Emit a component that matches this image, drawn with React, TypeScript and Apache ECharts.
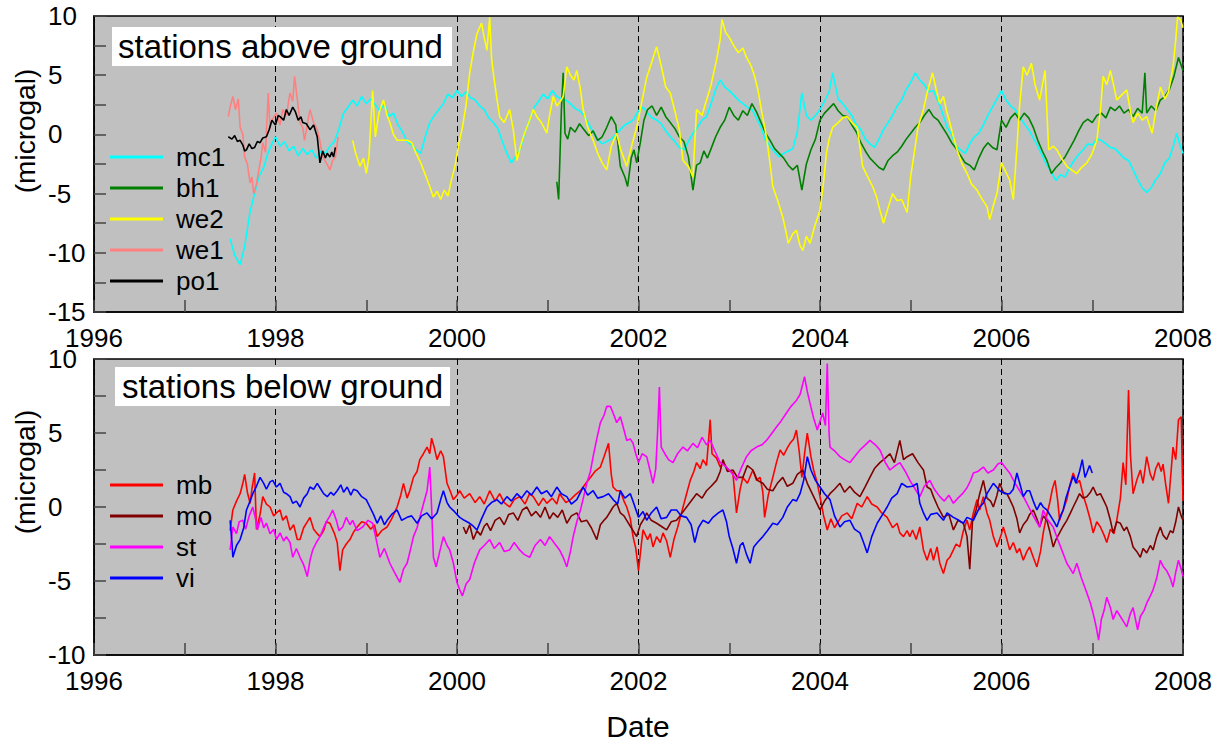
import React, { useEffect, useRef } from "react";
import * as echarts from "echarts";

// ---- tick labels / axes ----
const xLabels = [1996, 1998, 2000, 2002, 2004, 2006, 2008];
const topTitle = "stations above ground";
const bottomTitle = "stations below ground";
const yName = "(microgal)";
const xName = "Date";

// ---- stations above ground: [year, microgal] ----
const mc1 = [[1997.50,-8.8],[1997.55,-10.2],[1997.61,-11.0],[1997.66,-9.5],[1997.72,-6.5],[1997.77,-5.0],[1997.82,-3.5],[1997.87,-2.8],[1997.92,-1.5],[1997.96,-0.8],[1998.0,-0.2],[1998.05,-1.0],[1998.1,-0.6],[1998.15,-1.4],[1998.2,-1.0],[1998.25,-1.8],[1998.3,-1.2],[1998.35,-1.7],[1998.4,-1.3],[1998.45,-2.0],[1998.5,-1.4],[1998.55,-1.6],[1998.6,-1.0],[1998.65,-0.6],[1998.7,0.5],[1998.75,1.8],[1998.8,2.3],[1998.85,2.9],[1998.9,2.4],[1998.95,3.2],[1999.0,2.6],[1999.05,3.0],[1999.1,2.5],[1999.15,2.0],[1999.2,2.6],[1999.25,1.5],[1999.3,1.8],[1999.35,0.8],[1999.4,0.2],[1999.45,-0.6],[1999.5,-0.9],[1999.55,-1.3],[1999.6,-1.6],[1999.65,-0.2],[1999.7,1.0],[1999.75,1.6],[1999.8,2.1],[1999.85,2.6],[1999.9,3.4],[1999.95,3.1],[2000.0,3.7],[2000.05,3.2],[2000.1,3.6],[2000.15,3.1],[2000.2,2.9],[2000.25,2.4],[2000.3,2.1],[2000.35,1.4],[2000.4,1.0],[2000.45,0.5],[2000.5,-0.6],[2000.55,-1.6],[2000.6,-2.4],[2000.65,-1.8],[2000.7,-1.2],[2000.75,0.2],[2000.8,1.2],[2000.85,2.3],[2000.9,2.8],[2000.95,3.4],[2001.0,3.0],[2001.05,3.7],[2001.1,3.2],[2001.15,3.0],[2001.2,2.9],[2001.25,2.6],[2001.3,2.2],[2001.35,2.0],[2001.4,1.6],[2001.45,0.9],[2001.5,0.2],[2001.55,-0.4],[2001.6,-0.8],[2001.65,-0.6],[2001.7,-0.4],[2001.75,0.0],[2001.8,0.4],[2001.85,0.8],[2001.9,1.0],[2001.95,1.3],[2002.0,2.0],[2002.05,2.3],[2002.1,1.8],[2002.15,1.4],[2002.2,1.2],[2002.25,0.9],[2002.3,0.3],[2002.35,-0.2],[2002.4,-0.6],[2002.45,-1.1],[2002.5,-1.3],[2002.55,-0.6],[2002.6,0.1],[2002.65,0.6],[2002.7,1.2],[2002.75,1.5],[2002.8,2.6],[2002.85,3.8],[2002.9,4.6],[2002.95,4.0],[2003.0,3.7],[2003.05,3.3],[2003.1,2.9],[2003.15,2.6],[2003.2,2.3],[2003.25,2.1],[2003.3,1.4],[2003.35,0.6],[2003.4,-0.5],[2003.45,-1.0],[2003.5,-1.5],[2003.55,-1.9],[2003.6,-1.6],[2003.65,-1.4],[2003.7,-1.2],[2003.75,0.2],[2003.8,3.5],[2003.85,1.6],[2003.9,1.2],[2003.95,1.6],[2004.0,2.1],[2004.05,2.8],[2004.1,3.6],[2004.14,5.2],[2004.2,3.0],[2004.25,2.6],[2004.3,2.1],[2004.35,1.6],[2004.4,0.8],[2004.45,0.4],[2004.5,-0.4],[2004.55,-0.8],[2004.6,-1.1],[2004.65,-0.4],[2004.7,0.4],[2004.75,1.0],[2004.8,1.6],[2004.85,2.4],[2004.9,2.9],[2004.95,3.8],[2005.0,4.4],[2005.05,5.2],[2005.1,4.6],[2005.15,4.2],[2005.2,3.6],[2005.25,3.7],[2005.3,2.8],[2005.35,1.8],[2005.4,0.6],[2005.45,0.0],[2005.5,-1.0],[2005.55,-1.3],[2005.6,-1.6],[2005.65,-0.8],[2005.7,-0.2],[2005.75,0.1],[2005.8,0.8],[2005.85,1.6],[2005.9,2.3],[2005.95,3.0],[2006.0,3.7],[2006.05,2.9],[2006.1,2.4],[2006.15,2.1],[2006.2,1.5],[2006.25,0.9],[2006.3,0.4],[2006.35,-0.3],[2006.4,-1.0],[2006.45,-1.8],[2006.5,-2.6],[2006.55,-3.2],[2006.6,-3.9],[2006.65,-3.4],[2006.7,-3.6],[2006.75,-2.8],[2006.8,-2.2],[2006.85,-1.7],[2006.9,-1.3],[2006.95,-0.8],[2007.0,-0.9],[2007.05,-0.4],[2007.1,-0.5],[2007.15,-0.8],[2007.2,-1.1],[2007.25,-1.2],[2007.3,-1.6],[2007.35,-2.0],[2007.4,-2.2],[2007.45,-3.0],[2007.5,-3.8],[2007.55,-4.5],[2007.6,-4.9],[2007.65,-4.5],[2007.7,-3.8],[2007.75,-3.3],[2007.8,-2.4],[2007.85,-2.0],[2007.9,-0.8],[2007.93,0.1],[2007.97,-1.0],[2008.0,-1.6]];

const bh1 = [[2001.10,-4.0],[2001.12,-5.5],[2001.15,2.0],[2001.17,5.2],[2001.19,0.1],[2001.22,-0.4],[2001.25,0.6],[2001.3,0.2],[2001.35,0.9],[2001.4,0.4],[2001.45,-0.1],[2001.5,0.3],[2001.55,-0.5],[2001.6,-0.2],[2001.65,0.6],[2001.7,1.5],[2001.75,0.8],[2001.8,-2.7],[2001.85,-3.6],[2001.88,-4.4],[2001.92,-2.0],[2001.95,-1.3],[2001.98,-2.4],[2002.02,-0.7],[2002.06,1.2],[2002.1,2.1],[2002.15,2.4],[2002.2,1.6],[2002.25,2.3],[2002.3,1.5],[2002.35,1.0],[2002.4,0.5],[2002.45,-0.2],[2002.5,-0.6],[2002.55,-1.9],[2002.6,-4.7],[2002.64,-2.6],[2002.68,-2.4],[2002.72,-1.4],[2002.76,-2.0],[2002.8,-1.2],[2002.85,-0.2],[2002.9,0.6],[2002.95,1.2],[2003.0,2.3],[2003.05,1.6],[2003.1,1.2],[2003.15,2.0],[2003.2,1.6],[2003.25,2.6],[2003.3,1.9],[2003.35,1.0],[2003.4,0.1],[2003.45,-0.5],[2003.5,-1.2],[2003.55,-1.6],[2003.6,-2.0],[2003.65,-2.6],[2003.7,-3.0],[2003.75,-2.6],[2003.8,-4.7],[2003.85,-2.5],[2003.9,-1.3],[2003.95,-0.4],[2004.0,1.2],[2004.05,1.8],[2004.1,2.2],[2004.15,2.6],[2004.2,2.0],[2004.25,1.6],[2004.3,1.5],[2004.35,0.8],[2004.4,0.2],[2004.45,-0.7],[2004.5,-1.4],[2004.55,-2.0],[2004.6,-2.4],[2004.65,-2.8],[2004.7,-3.0],[2004.75,-2.2],[2004.8,-1.8],[2004.85,-1.5],[2004.9,-1.0],[2004.95,-0.4],[2005.0,0.1],[2005.05,0.6],[2005.1,1.0],[2005.15,1.6],[2005.2,2.1],[2005.25,1.5],[2005.3,1.2],[2005.35,0.6],[2005.4,0.0],[2005.45,-0.7],[2005.5,-1.2],[2005.55,-1.8],[2005.6,-2.4],[2005.65,-2.6],[2005.7,-3.0],[2005.75,-2.0],[2005.8,-1.2],[2005.85,-0.7],[2005.9,-1.1],[2005.95,-1.3],[2006.0,1.2],[2006.05,0.6],[2006.1,1.4],[2006.15,1.8],[2006.2,1.2],[2006.25,1.8],[2006.3,1.4],[2006.35,0.6],[2006.4,-0.5],[2006.45,-1.4],[2006.5,-2.2],[2006.55,-3.3],[2006.6,-2.8],[2006.65,-2.4],[2006.7,-1.9],[2006.75,-1.2],[2006.8,-0.5],[2006.85,0.3],[2006.9,1.0],[2006.95,1.3],[2007.0,1.0],[2007.05,1.6],[2007.1,1.8],[2007.15,1.4],[2007.2,2.3],[2007.25,2.0],[2007.3,2.4],[2007.35,1.8],[2007.4,2.1],[2007.45,1.5],[2007.5,2.2],[2007.55,1.8],[2007.58,5.2],[2007.6,1.8],[2007.65,2.4],[2007.7,2.0],[2007.75,2.9],[2007.8,3.2],[2007.85,3.8],[2007.9,4.9],[2007.95,6.5],[2008.0,5.4]];

const we2 = [[1998.85,-0.5],[1998.88,-1.5],[1998.93,-2.7],[1998.97,-2.0],[1999.0,-3.3],[1999.03,-1.9],[1999.07,3.7],[1999.1,-0.2],[1999.14,1.8],[1999.19,2.9],[1999.23,1.6],[1999.26,1.0],[1999.3,0.0],[1999.34,-0.5],[1999.4,-0.5],[1999.45,-0.5],[1999.5,-0.7],[1999.55,-1.6],[1999.6,-2.4],[1999.65,-3.4],[1999.7,-4.4],[1999.74,-5.3],[1999.78,-4.8],[1999.82,-5.5],[1999.86,-4.7],[1999.9,-5.2],[1999.94,-3.8],[1999.98,-2.6],[2000.02,-0.8],[2000.06,0.6],[2000.1,2.5],[2000.14,5.2],[2000.18,7.0],[2000.22,8.5],[2000.27,9.4],[2000.3,8.2],[2000.33,7.1],[2000.36,9.9],[2000.38,6.5],[2000.4,5.2],[2000.44,3.0],[2000.47,1.5],[2000.52,1.0],[2000.58,2.1],[2000.62,0.4],[2000.66,-2.2],[2000.7,-1.0],[2000.74,0.0],[2000.77,0.6],[2000.8,1.2],[2000.84,2.1],[2000.88,1.5],[2000.93,1.0],[2000.99,0.1],[2001.02,1.6],[2001.06,3.2],[2001.1,2.4],[2001.14,2.8],[2001.17,3.2],[2001.21,5.7],[2001.25,5.0],[2001.29,4.6],[2001.32,5.4],[2001.36,3.8],[2001.39,2.1],[2001.44,0.6],[2001.5,-0.5],[2001.55,-1.6],[2001.6,-2.4],[2001.65,-3.0],[2001.7,-1.0],[2001.76,0.1],[2001.8,-1.2],[2001.87,-2.7],[2001.93,-0.8],[2001.98,0.6],[2002.03,2.5],[2002.09,4.8],[2002.15,6.2],[2002.2,7.4],[2002.25,5.8],[2002.3,4.0],[2002.35,3.5],[2002.4,2.0],[2002.45,0.4],[2002.49,-2.2],[2002.55,-2.7],[2002.6,-3.6],[2002.64,2.1],[2002.7,1.6],[2002.75,2.9],[2002.8,4.2],[2002.86,6.3],[2002.9,8.0],[2002.92,9.7],[2002.96,8.6],[2003.0,8.2],[2003.05,7.5],[2003.1,6.9],[2003.15,7.3],[2003.19,6.5],[2003.24,5.8],[2003.28,4.9],[2003.32,3.6],[2003.36,1.8],[2003.41,-0.2],[2003.45,-2.5],[2003.48,-4.4],[2003.53,-5.5],[2003.59,-7.0],[2003.63,-8.4],[2003.65,-9.2],[2003.7,-8.4],[2003.74,-8.1],[2003.78,-9.4],[2003.81,-9.8],[2003.85,-8.6],[2003.89,-9.2],[2003.94,-7.8],[2004.0,-6.4],[2004.04,-4.0],[2004.07,-1.6],[2004.1,-0.4],[2004.14,0.6],[2004.2,1.0],[2004.25,1.4],[2004.3,1.5],[2004.35,1.0],[2004.41,0.6],[2004.47,-2.7],[2004.52,-3.5],[2004.58,-4.4],[2004.62,-5.2],[2004.66,-6.4],[2004.7,-7.5],[2004.75,-6.2],[2004.8,-5.0],[2004.85,-5.6],[2004.9,-5.5],[2004.96,-6.6],[2005.0,-3.5],[2005.04,-1.5],[2005.08,0.6],[2005.14,2.1],[2005.18,3.5],[2005.24,5.2],[2005.28,3.8],[2005.32,2.6],[2005.36,3.2],[2005.4,1.8],[2005.43,1.0],[2005.47,-0.2],[2005.51,-1.3],[2005.56,-2.4],[2005.62,-3.3],[2005.67,-4.2],[2005.73,-4.7],[2005.78,-5.4],[2005.84,-6.1],[2005.87,-7.2],[2005.91,-6.0],[2005.95,-5.0],[2006.0,-2.4],[2006.05,-3.2],[2006.09,-3.85],[2006.13,-5.5],[2006.17,-1.1],[2006.2,2.5],[2006.24,5.7],[2006.28,5.0],[2006.33,6.0],[2006.37,4.2],[2006.42,2.9],[2006.48,5.4],[2006.52,-1.3],[2006.57,-1.0],[2006.61,-1.3],[2006.66,-2.0],[2006.72,-2.7],[2006.77,-3.0],[2006.83,-3.3],[2006.88,-2.8],[2006.94,-2.4],[2007.0,-1.6],[2007.05,-0.5],[2007.09,2.0],[2007.12,4.9],[2007.16,4.2],[2007.2,5.4],[2007.24,4.0],[2007.27,2.9],[2007.32,3.3],[2007.38,3.75],[2007.42,2.0],[2007.45,1.0],[2007.5,1.8],[2007.55,1.2],[2007.6,1.5],[2007.66,0.1],[2007.7,2.0],[2007.75,4.0],[2007.8,3.0],[2007.84,3.6],[2007.89,5.7],[2007.92,8.0],[2007.94,9.9],[2007.97,9.7],[2008.0,9.0]];

const we1 = [[1997.48,1.5],[1997.5,2.3],[1997.53,3.2],[1997.56,2.1],[1997.59,3.0],[1997.61,0.6],[1997.64,0.0],[1997.66,-1.9],[1997.69,-2.5],[1997.72,-4.1],[1997.74,-3.6],[1997.76,-5.0],[1997.79,-4.2],[1997.81,-3.3],[1997.84,-2.0],[1997.86,-0.7],[1997.89,-1.5],[1997.92,3.5],[1997.94,0.5],[1997.96,1.2],[1998.01,1.8],[1998.05,0.8],[1998.08,2.1],[1998.12,1.6],[1998.16,3.5],[1998.19,2.8],[1998.21,4.9],[1998.24,3.0],[1998.27,1.0],[1998.3,0.6],[1998.32,-0.5],[1998.35,0.8],[1998.38,2.1],[1998.42,1.0],[1998.46,0.4],[1998.49,-0.6],[1998.52,-1.9],[1998.56,-2.4],[1998.6,-3.0],[1998.63,-2.2],[1998.66,-1.9],[1998.69,-0.2]];

const po1 = [[1997.48,-0.2],[1997.52,-0.4],[1997.55,-0.1],[1997.58,-0.6],[1997.61,-0.5],[1997.64,-0.9],[1997.66,-1.4],[1997.68,-1.3],[1997.71,-0.8],[1997.74,-1.2],[1997.77,-1.1],[1997.8,-0.6],[1997.83,-0.7],[1997.86,-0.3],[1997.9,-0.2],[1997.93,0.4],[1997.96,1.2],[1998.0,0.8],[1998.03,1.6],[1998.05,1.5],[1998.09,1.2],[1998.12,2.1],[1998.15,1.6],[1998.19,2.3],[1998.22,1.9],[1998.25,1.2],[1998.28,1.5],[1998.3,1.0],[1998.34,0.9],[1998.38,0.4],[1998.42,0.8],[1998.46,-0.2],[1998.49,-2.4],[1998.52,-1.4],[1998.55,-2.0],[1998.57,-1.6],[1998.6,-1.9],[1998.62,-1.5],[1998.64,-1.9],[1998.66,-1.1]];

// ---- stations below ground: [year, microgal] ----
const mb = [[1997.5,-1.6],[1997.53,-0.2],[1997.57,0.4],[1997.61,0.9],[1997.64,1.6],[1997.66,2.2],[1997.69,1.0],[1997.72,0.25],[1997.74,1.2],[1997.77,2.3],[1997.79,-1.5],[1997.83,-0.5],[1997.86,0.7],[1997.9,0.2],[1997.94,0.0],[1997.98,-0.6],[1998.01,-0.4],[1998.05,-0.2],[1998.08,-0.9],[1998.12,-0.6],[1998.16,-1.55],[1998.2,-1.2],[1998.24,-2.2],[1998.27,-2.2],[1998.31,-1.4],[1998.35,-1.0],[1998.38,-0.7],[1998.42,-1.5],[1998.46,-1.8],[1998.49,-2.0],[1998.53,-1.6],[1998.56,-1.0],[1998.6,-1.1],[1998.65,-1.8],[1998.68,-2.4],[1998.71,-4.3],[1998.74,-2.9],[1998.78,-2.5],[1998.82,-2.2],[1998.86,-1.7],[1998.9,-1.35],[1998.95,-1.0],[1999.0,-1.1],[1999.05,-1.5],[1999.09,-1.2],[1999.12,-2.0],[1999.17,-1.6],[1999.23,-1.35],[1999.28,-0.8],[1999.34,0.0],[1999.38,0.8],[1999.41,1.6],[1999.45,0.6],[1999.48,1.1],[1999.52,2.0],[1999.56,2.4],[1999.59,3.2],[1999.63,3.6],[1999.67,4.05],[1999.7,3.6],[1999.72,4.65],[1999.75,4.0],[1999.78,3.2],[1999.82,3.8],[1999.85,3.4],[1999.89,1.6],[1999.93,1.0],[1999.96,0.5],[2000.0,0.8],[2000.03,1.1],[2000.08,0.6],[2000.14,0.9],[2000.2,0.3],[2000.25,0.7],[2000.3,0.2],[2000.36,1.1],[2000.42,0.4],[2000.47,0.9],[2000.52,0.3],[2000.58,0.0],[2000.63,0.5],[2000.69,0.7],[2000.75,0.2],[2000.8,0.9],[2000.84,0.7],[2000.9,0.1],[2000.95,0.6],[2000.99,0.25],[2001.05,0.6],[2001.1,0.2],[2001.13,0.9],[2001.2,0.3],[2001.25,0.5],[2001.3,0.8],[2001.36,1.1],[2001.42,1.6],[2001.47,2.0],[2001.52,2.4],[2001.58,2.7],[2001.62,3.4],[2001.67,4.3],[2001.7,2.2],[2001.72,1.35],[2001.76,1.1],[2001.8,1.1],[2001.84,0.4],[2001.87,0.0],[2001.91,-0.8],[2001.94,-2.0],[2001.97,-2.8],[2002.0,-4.3],[2002.03,-2.6],[2002.05,-1.55],[2002.1,-2.2],[2002.13,-1.8],[2002.16,-2.7],[2002.2,-2.0],[2002.24,-2.4],[2002.27,-1.75],[2002.31,-2.3],[2002.35,-3.4],[2002.39,-2.2],[2002.43,-1.4],[2002.46,-0.7],[2002.5,0.2],[2002.53,0.9],[2002.57,1.8],[2002.61,2.4],[2002.64,3.0],[2002.68,2.6],[2002.71,3.2],[2002.75,2.8],[2002.79,5.9],[2002.81,3.6],[2002.86,3.3],[2002.9,2.7],[2002.93,3.0],[2002.98,2.6],[2003.04,2.3],[2003.08,-0.4],[2003.12,1.2],[2003.15,2.0],[2003.2,1.6],[2003.26,2.5],[2003.3,1.8],[2003.34,2.0],[2003.37,1.0],[2003.39,-0.7],[2003.43,0.8],[2003.48,2.0],[2003.52,3.0],[2003.56,3.85],[2003.6,3.5],[2003.64,4.0],[2003.67,4.3],[2003.71,4.6],[2003.74,5.2],[2003.77,3.8],[2003.8,2.0],[2003.83,3.6],[2003.86,5.0],[2003.9,3.4],[2003.93,2.5],[2003.97,1.6],[2004.0,0.7],[2004.04,-0.6],[2004.08,-1.55],[2004.12,-0.8],[2004.16,-1.4],[2004.19,-1.1],[2004.24,-0.6],[2004.3,-0.4],[2004.35,-0.8],[2004.41,0.25],[2004.46,0.0],[2004.52,0.7],[2004.57,0.2],[2004.63,0.0],[2004.68,-0.4],[2004.74,-0.7],[2004.8,-1.4],[2004.85,-1.1],[2004.88,-1.75],[2004.92,-2.0],[2004.96,-1.6],[2004.99,-2.0],[2005.02,-1.55],[2005.06,-2.2],[2005.1,-1.35],[2005.14,-2.9],[2005.18,-3.6],[2005.22,-2.8],[2005.25,-3.6],[2005.29,-2.7],[2005.32,-3.8],[2005.36,-4.5],[2005.4,-3.6],[2005.43,-3.4],[2005.47,-2.9],[2005.5,-2.5],[2005.54,-2.7],[2005.58,-1.6],[2005.62,-0.9],[2005.65,-1.55],[2005.69,-0.4],[2005.73,0.5],[2005.76,-0.2],[2005.8,0.7],[2005.84,-0.4],[2005.87,-0.9],[2005.91,-2.0],[2005.95,-2.7],[2006.0,-1.8],[2006.02,-1.35],[2006.06,-2.2],[2006.09,-2.9],[2006.13,-2.4],[2006.17,-3.1],[2006.2,-2.8],[2006.24,-3.6],[2006.28,-3.0],[2006.31,-2.7],[2006.35,-3.4],[2006.39,-4.05],[2006.43,-3.0],[2006.46,-1.75],[2006.5,-0.5],[2006.53,0.25],[2006.56,1.2],[2006.59,1.8],[2006.62,0.4],[2006.64,-0.9],[2006.68,-0.2],[2006.72,0.5],[2006.75,1.4],[2006.79,2.3],[2006.83,1.6],[2006.86,1.8],[2006.9,0.8],[2006.94,0.0],[2006.98,-0.9],[2007.01,-1.75],[2007.05,-1.0],[2007.09,-1.35],[2007.13,-1.9],[2007.16,-2.4],[2007.2,-1.5],[2007.24,-1.8],[2007.27,-0.9],[2007.31,0.6],[2007.34,3.0],[2007.37,1.5],[2007.4,7.9],[2007.42,3.6],[2007.45,0.9],[2007.49,1.8],[2007.53,2.5],[2007.56,1.6],[2007.6,3.4],[2007.64,2.2],[2007.67,1.8],[2007.7,2.6],[2007.73,3.0],[2007.76,2.4],[2007.78,2.9],[2007.81,1.5],[2007.84,0.25],[2007.87,2.5],[2007.89,4.05],[2007.92,3.2],[2007.95,5.9],[2007.98,6.1],[2008.0,0.4]];

const mo = [[2000.07,-1.35],[2000.1,-1.8],[2000.14,-1.2],[2000.18,-2.2],[2000.22,-1.6],[2000.26,-1.9],[2000.3,-1.3],[2000.33,-1.1],[2000.37,-1.6],[2000.42,-0.9],[2000.47,-0.7],[2000.52,-1.2],[2000.57,-0.5],[2000.62,-0.4],[2000.67,-0.9],[2000.72,-0.2],[2000.77,0.0],[2000.82,-0.6],[2000.87,-0.3],[2000.92,-0.7],[2000.97,0.0],[2001.02,-0.8],[2001.06,-0.4],[2001.11,-0.7],[2001.16,-0.2],[2001.21,-1.1],[2001.26,-0.6],[2001.32,-0.4],[2001.37,-1.0],[2001.43,-0.9],[2001.48,-1.4],[2001.54,-2.2],[2001.58,-1.2],[2001.62,-0.9],[2001.65,-0.7],[2001.7,-0.2],[2001.72,0.0],[2001.76,0.25],[2001.8,-0.4],[2001.84,-0.6],[2001.87,-0.9],[2001.92,-1.4],[2001.98,-2.0],[2002.02,-1.2],[2002.06,-0.8],[2002.09,-0.4],[2002.14,-0.9],[2002.2,-1.1],[2002.25,-1.3],[2002.31,-1.55],[2002.36,-1.0],[2002.42,-0.9],[2002.47,-0.5],[2002.53,0.0],[2002.58,0.4],[2002.64,0.9],[2002.7,0.6],[2002.75,1.1],[2002.8,1.4],[2002.86,1.8],[2002.9,2.4],[2002.93,3.2],[2002.98,2.4],[2003.04,2.5],[2003.09,2.0],[2003.15,2.0],[2003.2,2.8],[2003.26,2.5],[2003.31,1.8],[2003.37,1.6],[2003.42,1.2],[2003.48,1.1],[2003.53,1.6],[2003.59,2.0],[2003.64,1.4],[2003.7,1.6],[2003.75,2.2],[2003.81,2.5],[2003.86,1.6],[2003.93,0.7],[2004.0,-0.2],[2004.05,0.4],[2004.11,0.9],[2004.16,1.2],[2004.22,1.6],[2004.27,1.0],[2004.33,1.4],[2004.38,1.0],[2004.44,0.7],[2004.5,1.4],[2004.55,2.0],[2004.6,2.6],[2004.66,3.0],[2004.72,3.3],[2004.77,3.6],[2004.82,3.0],[2004.88,4.5],[2004.92,3.2],[2004.96,3.4],[2005.02,3.6],[2005.08,3.0],[2005.14,2.5],[2005.18,1.35],[2005.22,1.2],[2005.25,0.7],[2005.3,0.0],[2005.36,-0.7],[2005.42,-0.5],[2005.47,-1.55],[2005.52,-0.9],[2005.58,-1.1],[2005.62,-2.0],[2005.65,-4.2],[2005.68,-1.0],[2005.72,-0.2],[2005.76,0.9],[2005.8,1.8],[2005.84,0.6],[2005.88,0.4],[2005.91,0.0],[2005.95,0.8],[2005.98,1.6],[2006.02,1.0],[2006.06,0.9],[2006.1,0.4],[2006.13,0.0],[2006.17,-0.8],[2006.2,-1.75],[2006.24,-1.2],[2006.28,-0.9],[2006.31,-0.5],[2006.35,-0.2],[2006.39,-0.8],[2006.42,-1.35],[2006.46,-0.6],[2006.5,-0.9],[2006.53,-1.6],[2006.57,-2.7],[2006.6,-2.2],[2006.64,-1.75],[2006.68,-1.3],[2006.72,-0.9],[2006.76,-0.4],[2006.79,0.0],[2006.83,0.5],[2006.86,0.9],[2006.9,0.6],[2006.94,0.7],[2006.98,1.0],[2007.01,1.35],[2007.05,0.8],[2007.09,0.9],[2007.13,0.4],[2007.16,0.0],[2007.2,-0.9],[2007.23,-1.75],[2007.27,-1.0],[2007.31,-1.1],[2007.35,-1.6],[2007.38,-1.35],[2007.42,-2.0],[2007.45,-2.7],[2007.49,-3.0],[2007.53,-3.4],[2007.56,-2.8],[2007.6,-3.1],[2007.64,-2.6],[2007.67,-2.9],[2007.71,-2.0],[2007.75,-1.35],[2007.78,-1.9],[2007.82,-2.2],[2007.86,-1.6],[2007.89,-1.75],[2007.92,-1.0],[2007.95,0.0],[2007.98,-0.6],[2008.0,-0.9]];

const st = [[1997.5,-2.9],[1997.53,-1.35],[1997.57,-1.8],[1997.6,-1.0],[1997.64,-0.9],[1997.67,-1.5],[1997.71,-0.6],[1997.75,0.0],[1997.78,-0.8],[1997.8,-1.55],[1997.84,-0.7],[1997.87,-1.4],[1997.9,-1.1],[1997.94,-1.8],[1997.98,-1.5],[1998.01,-2.2],[1998.05,-1.75],[1998.09,-2.3],[1998.12,-2.0],[1998.16,-2.4],[1998.19,-3.4],[1998.23,-2.8],[1998.27,-3.4],[1998.31,-3.9],[1998.35,-4.7],[1998.38,-3.6],[1998.41,-2.9],[1998.45,-2.4],[1998.49,-2.0],[1998.52,-1.55],[1998.56,-1.0],[1998.6,-0.6],[1998.63,-0.2],[1998.67,-0.9],[1998.7,-1.6],[1998.74,-1.35],[1998.78,-0.7],[1998.82,-1.2],[1998.85,-0.9],[1998.9,-1.6],[1998.96,-1.35],[1999.02,-0.9],[1999.07,-1.1],[1999.11,-2.2],[1999.15,-3.4],[1999.2,-2.8],[1999.26,-3.8],[1999.31,-4.4],[1999.37,-5.1],[1999.41,-4.2],[1999.45,-3.8],[1999.49,-2.8],[1999.52,-2.0],[1999.56,-1.4],[1999.59,-0.7],[1999.63,0.2],[1999.67,1.1],[1999.7,2.7],[1999.72,0.0],[1999.74,-3.4],[1999.77,-4.05],[1999.81,-3.0],[1999.85,-2.0],[1999.89,-2.6],[1999.92,-2.9],[1999.96,-3.8],[2000.0,-5.1],[2000.03,-5.6],[2000.06,-6.0],[2000.1,-5.2],[2000.14,-4.9],[2000.19,-3.8],[2000.25,-2.9],[2000.3,-2.6],[2000.36,-2.2],[2000.41,-2.8],[2000.47,-2.4],[2000.52,-3.0],[2000.58,-2.9],[2000.63,-2.4],[2000.69,-2.9],[2000.74,-3.2],[2000.8,-3.4],[2000.86,-2.6],[2000.92,-2.2],[2000.97,-2.6],[2001.02,-2.0],[2001.08,-2.5],[2001.13,-2.9],[2001.17,-3.4],[2001.21,-4.05],[2001.25,-3.0],[2001.28,-2.0],[2001.32,-1.0],[2001.36,-0.2],[2001.4,0.8],[2001.43,1.6],[2001.47,2.4],[2001.5,3.4],[2001.54,4.6],[2001.58,5.7],[2001.62,6.2],[2001.65,6.8],[2001.69,6.8],[2001.72,6.35],[2001.76,5.7],[2001.8,6.1],[2001.84,5.2],[2001.87,4.5],[2001.91,4.6],[2001.94,4.3],[2001.97,3.6],[2002.0,3.0],[2002.04,3.6],[2002.09,3.4],[2002.13,2.4],[2002.16,1.6],[2002.19,2.6],[2002.21,5.0],[2002.23,8.1],[2002.25,4.05],[2002.29,3.6],[2002.33,3.2],[2002.38,3.0],[2002.43,3.6],[2002.49,4.05],[2002.54,3.8],[2002.6,4.3],[2002.65,4.0],[2002.7,4.7],[2002.75,4.2],[2002.79,4.5],[2002.84,3.8],[2002.9,3.0],[2002.95,2.8],[2003.0,2.5],[2003.04,2.2],[2003.08,1.8],[2003.13,2.6],[2003.19,3.4],[2003.24,3.8],[2003.3,4.05],[2003.36,4.2],[2003.41,4.5],[2003.46,4.9],[2003.52,5.4],[2003.57,5.8],[2003.63,6.35],[2003.68,6.8],[2003.74,7.2],[2003.78,7.6],[2003.83,8.8],[2003.86,7.8],[2003.89,7.0],[2003.93,6.0],[2003.97,5.2],[2004.0,5.8],[2004.03,6.35],[2004.06,5.5],[2004.08,9.7],[2004.1,5.0],[2004.11,4.05],[2004.16,3.8],[2004.22,3.4],[2004.27,3.2],[2004.33,3.0],[2004.38,3.4],[2004.44,3.85],[2004.5,4.2],[2004.55,4.5],[2004.61,4.2],[2004.66,3.85],[2004.72,3.0],[2004.77,2.5],[2004.83,2.8],[2004.88,3.0],[2004.94,2.4],[2004.99,1.8],[2005.04,1.3],[2005.1,0.7],[2005.15,1.4],[2005.21,1.8],[2005.26,1.2],[2005.32,0.7],[2005.37,0.4],[2005.42,0.8],[2005.47,0.25],[2005.52,0.6],[2005.57,0.9],[2005.62,1.3],[2005.66,1.8],[2005.69,2.3],[2005.74,2.4],[2005.8,2.7],[2005.85,2.3],[2005.91,2.5],[2005.96,2.9],[2006.0,3.0],[2006.05,2.6],[2006.09,2.3],[2006.15,1.6],[2006.2,1.1],[2006.25,0.6],[2006.3,0.0],[2006.35,-0.6],[2006.42,-1.35],[2006.46,-0.2],[2006.5,-0.8],[2006.57,-1.35],[2006.62,-2.2],[2006.67,-3.0],[2006.72,-3.8],[2006.76,-4.2],[2006.79,-4.5],[2006.83,-3.8],[2006.88,-4.8],[2006.94,-5.8],[2006.98,-6.5],[2007.01,-7.2],[2007.04,-8.0],[2007.07,-9.0],[2007.1,-7.6],[2007.13,-7.0],[2007.16,-6.1],[2007.2,-6.8],[2007.23,-7.6],[2007.27,-7.0],[2007.31,-7.4],[2007.35,-7.8],[2007.38,-8.1],[2007.42,-7.2],[2007.45,-6.8],[2007.5,-8.3],[2007.53,-7.4],[2007.57,-7.0],[2007.6,-6.5],[2007.64,-6.0],[2007.67,-5.6],[2007.71,-4.8],[2007.75,-3.6],[2007.78,-4.0],[2007.82,-4.3],[2007.86,-4.8],[2007.89,-5.4],[2007.92,-4.4],[2007.95,-3.6],[2007.98,-4.2],[2008.0,-4.7]];

const vi = [[1997.5,-0.9],[1997.52,-2.4],[1997.53,-3.4],[1997.57,-2.6],[1997.61,-2.2],[1997.65,-1.4],[1997.68,-0.2],[1997.72,0.4],[1997.75,0.9],[1997.79,1.4],[1997.83,2.0],[1997.87,1.6],[1997.9,1.2],[1997.94,1.7],[1997.97,1.8],[1998.01,1.35],[1998.05,1.6],[1998.09,1.0],[1998.12,0.9],[1998.16,0.7],[1998.19,0.25],[1998.23,0.4],[1998.27,0.0],[1998.31,0.6],[1998.35,0.9],[1998.38,1.35],[1998.42,1.2],[1998.46,1.6],[1998.5,1.2],[1998.53,0.9],[1998.57,0.7],[1998.61,1.0],[1998.64,0.8],[1998.68,1.1],[1998.72,1.5],[1998.75,1.0],[1998.79,1.35],[1998.83,0.8],[1998.86,1.2],[1998.9,1.1],[1998.95,0.7],[1999.0,0.5],[1999.04,0.0],[1999.08,-0.5],[1999.12,-1.1],[1999.16,-0.6],[1999.2,-1.2],[1999.23,-0.9],[1999.28,-0.5],[1999.34,-0.2],[1999.39,-0.9],[1999.45,-0.7],[1999.5,-0.6],[1999.56,-1.1],[1999.61,-0.6],[1999.67,-0.4],[1999.72,-0.8],[1999.78,-0.4],[1999.82,0.5],[1999.85,1.1],[1999.89,0.3],[1999.92,0.0],[1999.97,-0.3],[2000.03,-0.7],[2000.08,-0.9],[2000.14,-1.1],[2000.18,-1.3],[2000.22,-1.55],[2000.27,-0.8],[2000.33,0.0],[2000.38,0.3],[2000.44,0.5],[2000.49,0.2],[2000.55,0.7],[2000.6,0.4],[2000.66,0.9],[2000.71,0.6],[2000.77,1.1],[2000.82,0.8],[2000.88,1.35],[2000.93,0.9],[2000.99,1.1],[2001.04,0.7],[2001.1,1.35],[2001.15,0.9],[2001.21,0.7],[2001.26,0.2],[2001.32,0.5],[2001.39,1.35],[2001.44,0.8],[2001.5,1.1],[2001.55,0.6],[2001.61,0.7],[2001.67,0.9],[2001.72,0.5],[2001.77,0.2],[2001.8,1.1],[2001.85,0.6],[2001.91,0.9],[2001.95,0.2],[2002.0,-0.7],[2002.05,-0.3],[2002.09,-0.9],[2002.14,-0.4],[2002.2,0.0],[2002.25,-0.8],[2002.31,-0.7],[2002.36,-0.2],[2002.42,-0.2],[2002.47,-0.6],[2002.53,-0.7],[2002.58,-1.2],[2002.62,-2.4],[2002.66,-1.4],[2002.71,-0.9],[2002.77,-1.1],[2002.82,-0.7],[2002.88,-0.4],[2002.93,-0.2],[2002.97,-1.0],[2003.0,-2.0],[2003.04,-2.8],[2003.08,-3.8],[2003.12,-2.6],[2003.15,-2.4],[2003.19,-3.2],[2003.23,-3.8],[2003.27,-2.7],[2003.31,-2.4],[2003.37,-2.0],[2003.42,-1.6],[2003.48,-1.1],[2003.53,-1.2],[2003.59,-0.7],[2003.64,0.0],[2003.7,0.5],[2003.74,0.4],[2003.78,0.9],[2003.82,1.8],[2003.86,3.4],[2003.9,2.5],[2003.95,1.8],[2004.0,1.35],[2004.05,0.9],[2004.11,0.5],[2004.16,-0.6],[2004.22,-1.35],[2004.27,-1.0],[2004.33,-0.9],[2004.38,-1.5],[2004.44,-1.75],[2004.48,-2.4],[2004.52,-3.1],[2004.57,-2.0],[2004.63,-1.1],[2004.68,-0.6],[2004.74,0.0],[2004.79,0.6],[2004.85,0.9],[2004.9,1.6],[2004.96,1.35],[2005.02,1.4],[2005.07,1.6],[2005.1,0.25],[2005.14,-0.4],[2005.18,-0.9],[2005.22,-0.5],[2005.29,-0.4],[2005.36,-0.9],[2005.4,-0.4],[2005.47,-0.7],[2005.53,-0.9],[2005.58,-1.1],[2005.62,-0.7],[2005.69,-0.9],[2005.76,0.0],[2005.8,0.25],[2005.84,0.9],[2005.91,1.6],[2005.98,1.1],[2006.04,0.9],[2006.09,0.9],[2006.13,1.2],[2006.17,2.3],[2006.21,1.4],[2006.24,0.7],[2006.28,1.1],[2006.31,1.1],[2006.35,0.4],[2006.39,-0.2],[2006.43,0.3],[2006.46,0.0],[2006.5,-0.2],[2006.54,-0.6],[2006.58,-1.0],[2006.61,-1.35],[2006.65,-0.6],[2006.68,-0.2],[2006.71,0.6],[2006.75,1.35],[2006.79,2.1],[2006.82,1.6],[2006.86,2.4],[2006.89,3.2],[2006.92,2.0],[2006.94,2.3],[2006.97,2.8],[2007.0,2.3]];

const topSeries = [
  { name: "mc1", data: mc1, color: "#00ffff" },
  { name: "bh1", data: bh1, color: "#008000" },
  { name: "we2", data: we2, color: "#ffff00" },
  { name: "we1", data: we1, color: "#ff8080" },
  { name: "po1", data: po1, color: "#000000" },
];
const bottomSeries = [
  { name: "mb", data: mb, color: "#ff0000" },
  { name: "mo", data: mo, color: "#800000" },
  { name: "st", data: st, color: "#ff00ff" },
  { name: "vi", data: vi, color: "#0000ff" },
];

const FONT = "'Liberation Sans', Arial, Helvetica, sans-serif";

export default function App() {
  const ref = useRef<HTMLDivElement>(null);

  useEffect(() => {
    if (!ref.current) return;
    const chart = echarts.init(ref.current, null, { renderer: "svg" });

    const GL = 94;
    const GW = 1089;
    const GH = 296;
    const tops = [16, 359];

    const xAxis = (gridIndex: number) => ({
      type: "value",
      gridIndex,
      min: xLabels[0],
      max: xLabels[xLabels.length - 1],
      interval: 2,
      axisLine: { show: true, onZero: false, lineStyle: { color: "#000", width: 1.5 } },
      axisTick: { show: true, inside: true, length: 12, lineStyle: { color: "#444", width: 1.5 } },
      minorTick: { show: true, splitNumber: 2, length: 12, lineStyle: { color: "#444", width: 1.5 } },
      splitLine: { show: true, lineStyle: { color: "#000", width: 1, type: [6, 4] } },
      axisLabel: {
        color: "#000",
        fontSize: 26,
        lineHeight: 20,
        fontFamily: FONT,
        margin: 16,
        formatter: (v: number) => String(v),
      },
    });

    const yAxis = (gridIndex: number, min: number, max: number) => ({
      type: "value",
      gridIndex,
      min,
      max,
      interval: 5,
      axisLine: { show: true, onZero: false, lineStyle: { color: "#000", width: 1.5 } },
      axisTick: { show: true, inside: true, length: 12, lineStyle: { color: "#444", width: 1.5 } },
      minorTick: { show: true, splitNumber: 2, length: 12, lineStyle: { color: "#444", width: 1.5 } },
      splitLine: { show: false },
      axisLabel: {
        color: "#000",
        fontSize: 26,
        lineHeight: 20,
        fontFamily: FONT,
        align: "left",
        margin: 46,
      },
    });

    const mkSeries = (s: any, idx: number) => ({
      name: s.name,
      type: "line",
      xAxisIndex: idx,
      yAxisIndex: idx,
      data: s.data,
      symbol: "none",
      showSymbol: false,
      lineStyle: { color: s.color, width: 1.6 },
      itemStyle: { color: s.color },
      emphasis: { disabled: true },
    });

    const legendBase = {
      orient: "vertical",
      left: 110,
      padding: 0,
      itemWidth: 53,
      itemHeight: 3,
      icon: "rect",
      itemGap: 5,
      selectedMode: false,
      textStyle: { fontSize: 26, fontFamily: FONT, color: "#000", padding: [0, 0, 0, 8] },
    };

    chart.setOption({
      animation: false,
      backgroundColor: "#ffffff",
      grid: tops.map((t) => ({
        left: GL,
        top: t,
        width: GW,
        height: GH,
        show: true,
        backgroundColor: "#c0c0c0",
        borderColor: "#000",
        borderWidth: 1.5,
        containLabel: false,
      })),
      xAxis: [xAxis(0), xAxis(1)],
      yAxis: [yAxis(0, -15, 10), yAxis(1, -10, 10)],
      legend: [
        { ...legendBase, top: 144, data: topSeries.map((s) => s.name) },
        { ...legendBase, top: 472, data: bottomSeries.map((s) => s.name) },
      ],
      series: [
        ...topSeries.map((s) => mkSeries(s, 0)),
        ...bottomSeries.map((s) => mkSeries(s, 1)),
      ],
      graphic: [
        { type: "rect", left: 112, top: 27, shape: { width: 340, height: 39 }, style: { fill: "#fff" }, z: 100 },
        {
          type: "text", x: 118, y: 46.5, z: 101,
          style: { text: topTitle, fill: "#000", fontSize: 33, fontFamily: FONT, verticalAlign: "middle", align: "left" },
        },
        { type: "rect", left: 115, top: 367, shape: { width: 335, height: 39 }, style: { fill: "#fff" }, z: 100 },
        {
          type: "text", x: 122, y: 386.5, z: 101,
          style: { text: bottomTitle, fill: "#000", fontSize: 33, fontFamily: FONT, verticalAlign: "middle", align: "left" },
        },
        {
          type: "text", x: 25, y: 131, rotation: Math.PI / 2, z: 101,
          style: { text: yName, fill: "#000", fontSize: 28, fontFamily: FONT, verticalAlign: "middle", align: "center" },
        },
        {
          type: "text", x: 25, y: 472, rotation: Math.PI / 2, z: 101,
          style: { text: yName, fill: "#000", fontSize: 28, fontFamily: FONT, verticalAlign: "middle", align: "center" },
        },
        {
          type: "text", x: 638, y: 726, z: 101,
          style: { text: xName, fill: "#000", fontSize: 30, fontFamily: FONT, verticalAlign: "middle", align: "center" },
        },
      ],
    });

    return () => chart.dispose();
  }, []);

  return (
    <div
      ref={ref}
      style={{ position: "absolute", left: 0, top: 0, width: 1223, height: 745 }}
    />
  );
}
